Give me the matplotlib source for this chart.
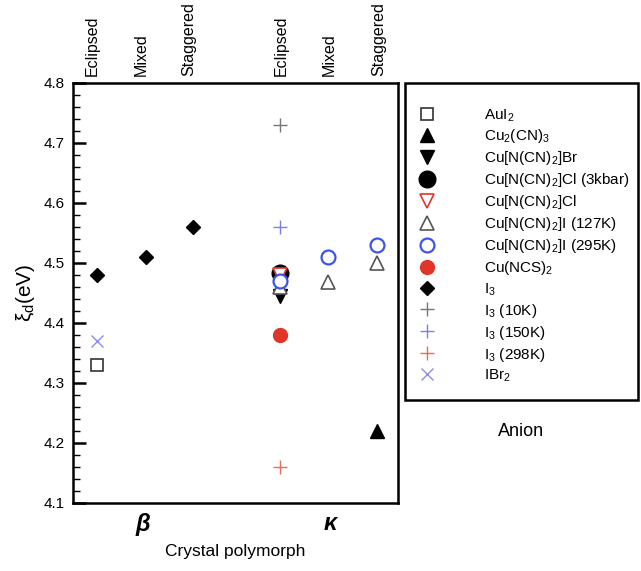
import matplotlib
matplotlib.use("Agg")
import matplotlib.pyplot as plt
from matplotlib.patches import Rectangle
from matplotlib.ticker import MultipleLocator

plt.rcParams['font.family'] = ['Liberation Sans', 'DejaVu Sans']
plt.rcParams['mathtext.default'] = 'regular'

# polymorph / conformation categories (index into positions)
conformations = ['Eclipsed', 'Mixed', 'Staggered', 'Eclipsed', 'Mixed', 'Staggered']
polymorphs = ['β', 'κ']

series_names = ['AuI$_2$', 'Cu$_2$(CN)$_3$', 'Cu[N(CN)$_2$]Br', 'Cu[N(CN)$_2$]Cl (3kbar)',
                'Cu[N(CN)$_2$]Cl', 'Cu[N(CN)$_2$]I (127K)', 'Cu[N(CN)$_2$]I (295K)',
                'Cu(NCS)$_2$', 'I$_3$', 'I$_3$ (10K)', 'I$_3$ (150K)', 'I$_3$ (298K)', 'IBr$_2$']
series_cats = [[0], [5], [3], [3], [3], [3, 4, 5], [3, 4, 5], [3], [0, 1, 2], [3], [3], [3], [0]]
series_vals = [[4.33], [4.22], [4.445], [4.483], [4.48], [4.46, 4.468, 4.50],
               [4.47, 4.51, 4.53], [4.38], [4.48, 4.51, 4.56], [4.73], [4.56], [4.16], [4.37]]

# marker styles: (marker, size, face, edge, edge width)
styles = [
    ('s', 9, 'white', '#333333', 1.2),
    ('^', 10, 'black', 'black', 1.0),
    ('v', 10, 'black', 'black', 1.0),
    ('o', 12, 'black', 'black', 1.0),
    ('v', 10, 'white', '#e0352b', 1.2),
    ('^', 10, 'white', '#555555', 1.2),
    ('o', 10, 'white', '#3d55e6', 1.6),
    ('o', 10, '#e0352b', '#e0352b', 1.0),
    ('D', 7, 'black', 'black', 1.0),
    ('+', 10, '#777777', '#777777', 1.0),
    ('+', 10, '#7d7df2', '#7d7df2', 1.0),
    ('+', 10, '#ea6b5c', '#ea6b5c', 1.0),
    ('x', 9, '#8e8ee8', '#8e8ee8', 1.0),
]

positions = [0.5, 1.5, 2.48, 4.27, 5.26, 6.27]

fig = plt.figure(figsize=(6.41, 5.71), dpi=100)
ax = fig.add_axes([73 / 641, 1 - 503 / 571, 325 / 641, 420 / 571])

handles = []
for name, cats, vals, st in zip(series_names, series_cats, series_vals, styles):
    m, ms, fc, ec, mew = st
    xs = [positions[c] for c in cats]
    h, = ax.plot(xs, vals, linestyle='none', marker=m, markersize=ms,
                 markerfacecolor=fc, markeredgecolor=ec, markeredgewidth=mew,
                 label=name)
    handles.append(h)

ax.set_xlim(0, 6.7)
ax.set_ylim(4.1, 4.8)
ax.yaxis.set_major_locator(MultipleLocator(0.1))
ax.yaxis.set_minor_locator(MultipleLocator(0.02))
ax.tick_params(axis='y', which='major', direction='in', length=9, width=1.8,
               labelsize=11, pad=6)
ax.tick_params(axis='y', which='minor', direction='in', length=5, width=1.0)
ax.tick_params(axis='x', which='both', bottom=False, top=False, labelbottom=False)
for sp in ax.spines.values():
    sp.set_linewidth(1.8)
ax.set_yticklabels([f'{v:.1f}' for v in ax.get_yticks()])

# conformation labels above the axes
label_shift = [-0.1, -0.1, -0.1, 0.03, 0.03, 0.03]
for p, s, lab in zip(positions, label_shift, conformations):
    ax.text(p + s, 1.017, lab, transform=ax.get_xaxis_transform(), rotation=90,
            ha='center', va='bottom', fontsize=11.5)

# polymorph labels below
for p, lab in zip([1.43, 5.3], polymorphs):
    ax.text(p, -0.05, lab, transform=ax.get_xaxis_transform(), ha='center',
            va='center', fontsize=17, fontweight='bold', fontstyle='italic')
ax.text(0.5, -0.115, 'Crystal polymorph', transform=ax.transAxes, ha='center',
        va='center', fontsize=12.5)

ax.set_ylabel('ξ$_d$(eV)', fontsize=15, labelpad=5)

# legend in a separate box
fig.patches.append(Rectangle((405 / 641, 1 - 400 / 571), 233 / 641, 317 / 571,
                             transform=fig.transFigure, fill=False,
                             edgecolor='black', linewidth=1.8))
fig.legend(handles=handles, loc='upper left', bbox_to_anchor=(412 / 641, 1 - 101 / 571),
           frameon=False, fontsize=11, labelspacing=0.26, handletextpad=3.1,
           handlelength=1.2, borderaxespad=0, numpoints=1)
fig.text(521 / 641, 1 - 432 / 571, 'Anion', ha='center', va='center', fontsize=13)

fig.savefig('out.png', dpi=100)
